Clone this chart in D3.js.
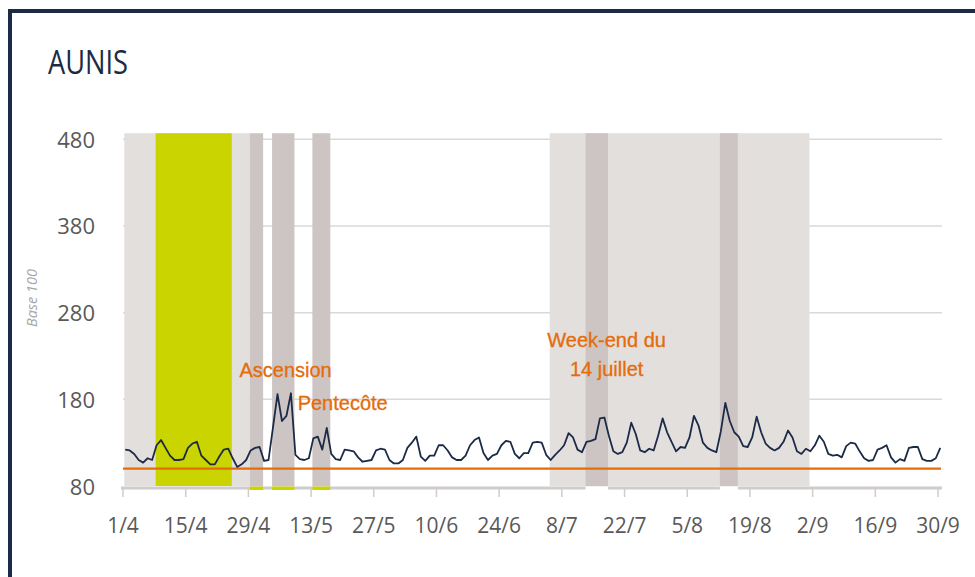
<!DOCTYPE html>
<html>
<head>
<meta charset="utf-8">
<script src="https://cdn.jsdelivr.net/npm/d3@7"></script>
<style>
  html, body { margin: 0; padding: 0; background: #fff; }
  svg { display: block; }
</style>
</head>
<body>
<svg id="chart" width="975" height="577"></svg>
<script>
// ---------- DATA ----------
const title = "AUNIS";
const yLabel = "Base 100";
const startDate = "2016-04-01";
// daily index values (base 100), 1/4 -> 30/9
const values = [
  122,121,117,110,107,112,110,127,133,124,115,110,110,111,124,129,131,115,110,105,
  105,114,122,123,112,102,105,110,121,124,125,109,110,148,186,155,161,187,116,111,
  110,112,135,137,122,147,117,111,110,122,121,120,113,108,109,110,121,123,122,110,
  106,106,110,124,130,137,114,109,115,115,127,127,121,113,110,110,115,127,133,136,
  118,110,115,117,127,132,131,117,112,118,118,130,131,130,116,110,116,121,127,141,
  136,122,119,131,132,134,158,159,138,120,117,119,130,153,140,121,119,123,121,138,
  158,142,131,120,125,124,136,161,150,130,124,121,119,143,176,155,142,137,126,125,
  136,160,142,129,124,121,124,131,144,136,120,117,123,120,127,138,131,117,115,116,
  113,126,130,129,120,112,109,110,122,124,127,113,107,111,109,124,125,125,111,109,
  109,112,124
];
const baseValue = 100;
const yTicks = [80, 180, 280, 380, 480];
const xTickLabels = ["1/4","15/4","29/4","13/5","27/5","10/6","24/6","8/7","22/7","5/8","19/8","2/9","16/9","30/9"];
// school holiday periods (all zones)
const holidayPeriods = [
  {from: "2016-04-01", to: "2016-04-28"},
  {from: "2016-07-05", to: "2016-08-31"}
];
// local-zone school holidays
const localHolidays = [
  {from: "2016-04-08", to: "2016-04-24"}
];
// long weekends with public holidays (spring)
const springBridges = [
  {from: "2016-04-29", to: "2016-05-01"},
  {from: "2016-05-04", to: "2016-05-08"},
  {from: "2016-05-13", to: "2016-05-16"}
];
// long weekends with public holidays (summer)
const summerBridges = [
  {from: "2016-07-13", to: "2016-07-17"},
  {from: "2016-08-12", to: "2016-08-15"}
];
const annotations = [
  {date: "2016-04-27", value: 206, lines: ["Ascension"], anchor: "start"},
  {date: "2016-05-10", value: 168, lines: ["Pentecôte"], anchor: "start"},
  {date: "2016-07-18", value: 240, lines: ["Week-end du", "14 juillet"], anchor: "middle"}
];

// ---------- CHART ----------
const svg = d3.select("#chart");
const W = 975, H = 577;
const parse = d3.timeParse("%Y-%m-%d");
const t0 = parse(startDate);
const dayIdx = s => d3.timeDay.count(t0, parse(s));
const nDays = values.length;

const x = d3.scaleLinear().domain([0, nDays]).range([123, 942.5]);
const y = d3.scaleLinear().domain([80, 480]).range([486, 139.3]);
const bandShift = 1.3;

const C = {
  frame: "#1b2b45",
  light: "#e3dfdd",
  dark: "#cdc5c3",
  green: "#c9d400",
  grid: "#d9d9d9",
  axis: "#d0cccb",
  text: "#595959",
  orange: "#e46c0a",
  line: "#1b2a47"
};

// frame
svg.append("rect").attr("x", 8).attr("y", 9).attr("width", W).attr("height", 4).attr("fill", C.frame);
svg.append("rect").attr("x", 8).attr("y", 9).attr("width", 4).attr("height", H).attr("fill", C.frame);

// title
svg.append("text").attr("x", 48).attr("y", 74)
  .attr("font-family", "'Open Sans',sans-serif")
  .attr("font-size", 33).attr("fill", C.frame)
  .attr("textLength", 80).attr("lengthAdjust", "spacingAndGlyphs")
  .text(title);

// gridlines
svg.append("g").selectAll("line").data(yTicks.slice(1)).join("line")
  .attr("x1", 123).attr("x2", 942).attr("y1", d => y(d)).attr("y2", d => y(d))
  .attr("stroke", C.grid).attr("stroke-width", 1.5);

const bandTop = y(487), bandBottom = y(80);
const bx0 = d => x(dayIdx(d.from)) + bandShift;
const bw = d => x(dayIdx(d.to) + 1) - x(dayIdx(d.from));
function bands(data, color) {
  svg.append("g").selectAll("rect").data(data).join("rect")
    .attr("x", bx0).attr("width", bw)
    .attr("y", bandTop).attr("height", bandBottom - bandTop)
    .attr("fill", color);
}
bands(holidayPeriods, C.light);
bands(localHolidays, C.green);
bands(springBridges, C.dark);
bands(summerBridges, C.dark);

// x axis line
const axisY = 488;
svg.append("line").attr("x1", 121).attr("x2", 942).attr("y1", axisY).attr("y2", axisY)
  .attr("stroke", C.axis).attr("stroke-width", 3);
// strips under bridges
function strips(data, color) {
  svg.append("g").selectAll("rect").data(data).join("rect")
    .attr("x", bx0).attr("width", bw)
    .attr("y", axisY - 1.5).attr("height", 3.5).attr("fill", color);
}
strips(springBridges, C.green);
strips(summerBridges, "#ffffff");

// x ticks
const xTickDays = xTickLabels.map(l => {
  const [dd, mm] = l.split("/").map(Number);
  return d3.timeDay.count(t0, new Date(t0.getFullYear(), mm - 1, dd));
});
const xt = svg.append("g");
xt.selectAll("line").data(xTickDays).join("line")
  .attr("x1", d => x(d)).attr("x2", d => x(d)).attr("y1", axisY).attr("y2", axisY + 9)
  .attr("stroke", C.axis).attr("stroke-width", 1.5);
xt.selectAll("text").data(xTickLabels).join("text")
  .attr("x", (d, i) => x(xTickDays[i])).attr("y", 533)
  .attr("text-anchor", "middle")
  .attr("font-family", "'Open Sans',sans-serif").attr("font-size", 21)
  .attr("fill", C.text).text(d => d);

// y tick labels
svg.append("g").selectAll("text").data(yTicks).join("text")
  .attr("x", 95).attr("y", d => y(d) + 8.5)
  .attr("text-anchor", "end")
  .attr("font-family", "'Open Sans',sans-serif").attr("font-size", 22)
  .attr("fill", C.text).text(d => d);

// y label
svg.append("text").attr("transform", "translate(37,298) rotate(-90)")
  .attr("text-anchor", "middle").attr("font-style", "italic")
  .attr("font-family", "'Open Sans',sans-serif").attr("font-size", 14.5)
  .attr("fill", "#a6a6a6").text(yLabel);

// base line
svg.append("line").attr("x1", 123).attr("x2", 941).attr("y1", y(baseValue)).attr("y2", y(baseValue))
  .attr("stroke", C.orange).attr("stroke-width", 2.2);

// series line
const line = d3.line().x((d, i) => x(i + 0.5)).y(d => y(d));
svg.append("path").datum(values).attr("d", line)
  .attr("fill", "none").attr("stroke", C.line).attr("stroke-width", 1.8)
  .attr("stroke-linejoin", "round");

// annotations
annotations.forEach(a => {
  const t = svg.append("text")
    .attr("font-family", "'Liberation Sans',Arial,sans-serif").attr("font-size", 20)
    .attr("fill", C.orange).attr("stroke", C.orange).attr("stroke-width", 0.3)
    .attr("text-anchor", a.anchor);
  a.lines.forEach((l, k) => {
    t.append("tspan").attr("x", x(dayIdx(a.date))).attr("y", y(a.value) + k * 29).text(l);
  });
});
</script>
</body>
</html>
